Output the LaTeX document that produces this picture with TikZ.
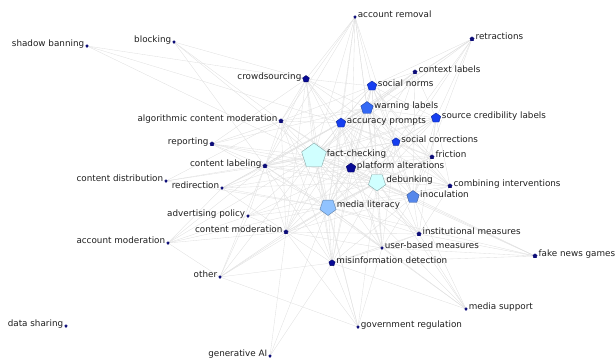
\documentclass[tikz,border=0pt]{standalone}
\usepackage{fontspec}
\setmainfont{DejaVu Sans}
\usepackage{xcolor}
\usetikzlibrary{shapes.geometric}
\pgfdeclarelayer{edges}
\pgfsetlayers{edges,main}
\definecolor{navy}{RGB}{12,12,120}
\definecolor{deepblue}{RGB}{8,10,150}
\definecolor{brightblue}{RGB}{22,62,240}
\definecolor{warnblue}{RGB}{52,105,245}
\definecolor{inocblue}{RGB}{85,135,235}
\definecolor{litblue}{RGB}{145,195,255}
\definecolor{palecyan}{RGB}{208,255,255}
\definecolor{edgegray}{RGB}{224,224,224}

\begin{document}
\begin{tikzpicture}[x=1pt, y=-1pt,
    v/.style={regular polygon, regular polygon sides=5, inner sep=0pt, line width=0.4pt},
    tiny/.style={v, minimum size=2.6pt, fill=navy, draw=navy},
    dot/.style={v, minimum size=4.4pt, fill=navy, draw=navy},
    hub/.style 2 args={v, minimum size=#1, fill=#2, draw=#2!65!black},
    flip/.style={shape border rotate=180},
    lr/.style={label={[anchor=base west, inner sep=1.3pt]east:#1}},
    ll/.style={label={[anchor=base east, inner sep=1.3pt]west:#1}},
    every label/.style={font=\fontsize{8.8}{10}\selectfont, text=black!88},
    link/.style={draw=edgegray, line width=0.35pt}]
  \useasboundingbox (0,0) rectangle (615,362);

  \node[tiny, ll=shadow banning] (sb) at (87,46) {};
  \node[tiny, ll=blocking] (blk) at (174,42) {};
  \node[tiny, lr=account removal] (ar) at (355,17) {};
  \node[dot, lr=retractions] (ret) at (472,39) {};
  \node[dot, lr=context labels] (ctx) at (415,72) {};
  \node[hub={7pt}{deepblue}, ll=crowdsourcing] (cs) at (306,79) {};
  \node[hub={10pt}{brightblue}, lr=social norms] (sn) at (372,86) {};
  \node[hub={13pt}{warnblue}, lr=warning labels] (wl) at (367,108) {};
  \node[hub={10pt}{brightblue}, lr=source credibility labels] (scl) at (436,118) {};
  \node[hub={10pt}{brightblue}, lr=accuracy prompts] (ap) at (341,123) {};
  \node[dot, ll=algorithmic content moderation] (acm) at (281,121) {};
  \node[hub={8.5pt}{brightblue}, lr=social corrections] (sc) at (396,142) {};
  \node[dot, ll=reporting] (rep) at (212,144) {};
  \node[dot, lr=friction] (fr) at (432,157) {};
  \node[hub={26pt}{palecyan}, lr=fact-checking] (fc) at (314,156) {};
  \node[dot, ll=content labeling] (cl) at (265,166) {};
  \node[hub={10pt}{deepblue}, lr=platform alterations] (pa) at (351,168) {};
  \node[tiny, ll=content distribution] (cd) at (166,181) {};
  \node[hub={18pt}{palecyan}, flip, lr=debunking] (db) at (377,182) {};
  \node[dot, lr=combining interventions] (ci) at (450,186) {};
  \node[tiny, ll=redirection] (rd) at (222,188) {};
  \node[hub={13pt}{inocblue}, lr=inoculation] (inoc) at (413,197) {};
  \node[hub={17pt}{litblue}, flip, lr=media literacy] (ml) at (328,207) {};
  \node[tiny, ll=advertising policy] (adv) at (248,216) {};
  \node[dot, ll=content moderation] (cm) at (286,232) {};
  \node[dot, lr=institutional measures] (im) at (419,234) {};
  \node[tiny, ll=account moderation] (am) at (168,243) {};
  \node[tiny, lr=user-based measures] (ubm) at (382,248) {};
  \node[dot, lr=fake news games] (fng) at (535,256) {};
  \node[hub={6.5pt}{deepblue}, lr=misinformation detection] (md) at (332,263) {};
  \node[tiny, ll=other] (oth) at (220,277) {};
  \node[tiny, lr=media support] (ms) at (466,309) {};
  \node[tiny, ll=data sharing] (ds) at (66,326) {};
  \node[tiny, lr=government regulation] (gr) at (358,327) {};
  \node[tiny, ll=generative AI] (gai) at (270,356) {};

  \begin{pgfonlayer}{edges}
    \foreach \a/\bs in {
        fc/{db,ml,inoc,wl,ap,sn,scl,sc,pa,cs,md,fr,cl,acm,cm,ubm,im,ci,ar,ret,ctx,sb,blk,rep,cd,rd,adv,am,oth,gr,ms,fng},
        db/{ml,inoc,wl,ap,sn,scl,sc,pa,cs,md,fr,cl,acm,cm,ubm,im,ci,ar,ret,ctx,rep,rd,adv,oth,gr,ms,fng},
        ml/{inoc,wl,ap,sn,scl,sc,pa,cs,md,fr,cl,acm,cm,ubm,im,ci,ar,ctx,rep,cd,rd,adv,am,oth,gr,ms,fng,gai},
        inoc/{wl,ap,sn,scl,sc,pa,md,fr,cl,cm,ubm,im,ci,ret,ctx,fng,ms},
        wl/{ap,sn,scl,sc,pa,cs,md,fr,cl,acm,cm,ubm,im,ci,ar,ret,ctx,rep,rd},
        ap/{sn,scl,sc,pa,cs,md,fr,cl,acm,cm,ubm,ci,ar,ret,ctx,sb,rd},
        sn/{scl,sc,pa,cs,fr,cl,acm,ubm,ci,ar,ret,ctx},
        scl/{sc,pa,fr,cl,ci,ret,ctx,im},
        sc/{pa,cs,fr,cl,ubm,ci,ar,ret},
        pa/{cs,md,fr,cl,acm,cm,ubm,im,ci,ar,rep,rd,adv},
        cs/{md,cl,acm,cm,ar,sb,blk,rep},
        md/{cl,acm,cm,ubm,im,oth,gr,ms,gai,fng},
        cl/{acm,cm,ubm,rep,cd,rd,adv,am,oth,ar,blk},
        acm/{cm,rep,cd,blk,ar},
        cm/{ubm,im,rd,adv,am,oth,gr,gai},
        ubm/{im,ms,fng,gr},
        im/{ms,fng,ci},
        am/{oth,rd,adv},
        oth/{gr,adv}}
      \foreach \b in \bs
        \path[link] (\a) -- (\b);
  \end{pgfonlayer}
\end{tikzpicture}
\end{document}
